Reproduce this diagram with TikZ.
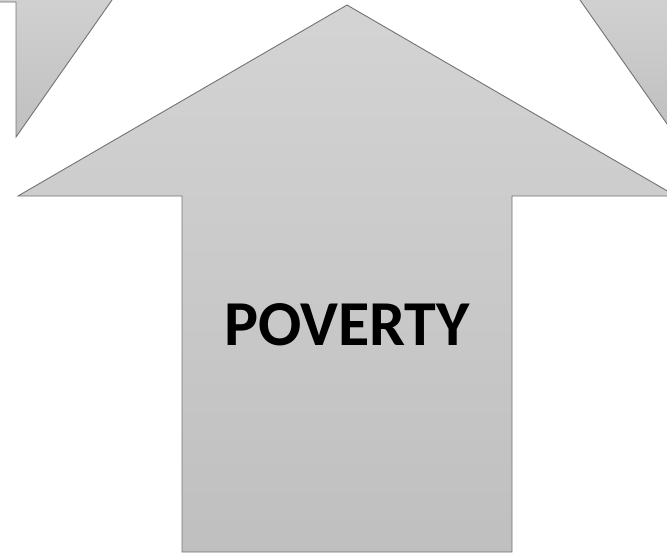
\documentclass[tikz,border=0pt]{standalone}
\usepackage{fontspec}
\setmainfont{Carlito}
\begin{document}
\begin{tikzpicture}[x=1pt,y=-1pt,
  arrowshape/.style={draw=black!55, line width=0.9pt, line join=miter, top color=black!18, bottom color=black!25},
  label/.style={font=\bfseries\fontsize{64}{64}\selectfont, text=black}]
\useasboundingbox (0,0) rectangle (667,554);
\begin{scope}
\clip (0,0) rectangle (667,554);
% left partial arrow
\path[arrowshape] (-5,-5) -- (-5,2) -- (16,2) -- (16,137) -- (112,0) -- (112,-5) -- cycle;
% right partial arrow
\path[arrowshape] (580,0) -- (672,131) -- (672,-5) -- (580,-5) -- cycle;
% main up arrow
\path[arrowshape, top color=black!17, bottom color=black!25] (347,5) -- (676,196) -- (512,196) -- (512,552) -- (182,552) -- (182,196) -- (18,196) -- cycle;
\end{scope}
\node[label] (poverty) at (347,325) {POVERTY};
\end{tikzpicture}
\end{document}
